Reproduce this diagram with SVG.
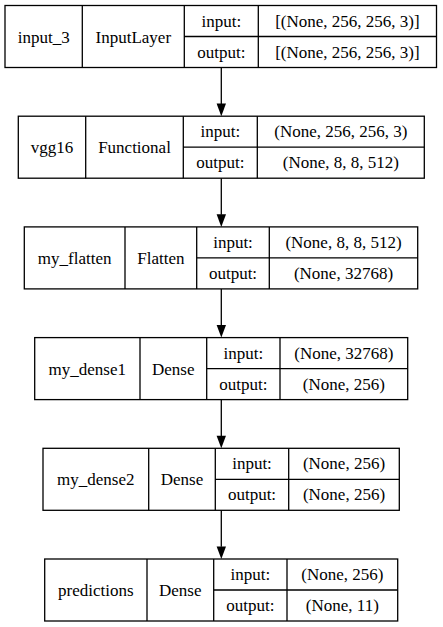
<svg xmlns="http://www.w3.org/2000/svg" width="443" height="627" viewBox="0 0 443 627">
<style>
.b{fill:none;stroke:#000;stroke-width:1.3}
.l{stroke:#000;stroke-width:1.3}
text{font-family:'Liberation Serif','DejaVu Serif',serif;font-size:17px;fill:#000;text-anchor:middle}
</style>
<rect width="443" height="627" fill="#fff"/>
<g id="connectors">
<line class="l" x1="221.3" y1="67.5" x2="221.3" y2="104"/>
<polygon points="216.6,103.6 226,103.6 221.3,116.2"/>
<line class="l" x1="221.3" y1="178.2" x2="221.3" y2="214.7"/>
<polygon points="216.6,214.3 226,214.3 221.3,226.9"/>
<line class="l" x1="221.3" y1="288.9" x2="221.3" y2="325.4"/>
<polygon points="216.6,325 226,325 221.3,337.6"/>
<line class="l" x1="221.3" y1="399.6" x2="221.3" y2="436.1"/>
<polygon points="216.6,435.7 226,435.7 221.3,448.3"/>
<line class="l" x1="221.3" y1="510.3" x2="221.3" y2="546.8"/>
<polygon points="216.6,546.4 226,546.4 221.3,559"/>
</g>
<g id="input_3">
<rect class="b" x="5" y="5.5" width="431.5" height="62"/>
<path class="l" d="M82.3,5.5V67.5M184.3,5.5V67.5M258.3,5.5V67.5M184.3,36.5H436.5"/>
<text x="43.7" y="42.5">input_3</text>
<text x="133.3" y="42.5">InputLayer</text>
<text x="221.3" y="26.5">input:</text>
<text x="221.3" y="57.5">output:</text>
<text x="347.4" y="26.5">[(None, 256, 256, 3)]</text>
<text x="347.4" y="57.5">[(None, 256, 256, 3)]</text>
</g>
<g id="vgg16">
<rect class="b" x="18.3" y="116.2" width="406" height="62"/>
<path class="l" d="M85.7,116.2V178.2M183.3,116.2V178.2M257.3,116.2V178.2M183.3,147.2H424.3"/>
<text x="52" y="153.2">vgg16</text>
<text x="134.5" y="153.2">Functional</text>
<text x="220.3" y="137.2">input:</text>
<text x="220.3" y="168.2">output:</text>
<text x="340.8" y="137.2">(None, 256, 256, 3)</text>
<text x="340.8" y="168.2">(None, 8, 8, 512)</text>
</g>
<g id="my_flatten">
<rect class="b" x="24.3" y="226.9" width="393.4" height="62"/>
<path class="l" d="M125,226.9V288.9M196.7,226.9V288.9M269.3,226.9V288.9M196.7,257.9H417.7"/>
<text x="74.7" y="263.9">my_flatten</text>
<text x="160.9" y="263.9">Flatten</text>
<text x="233" y="247.9">input:</text>
<text x="233" y="278.9">output:</text>
<text x="343.5" y="247.9">(None, 8, 8, 512)</text>
<text x="343.5" y="278.9">(None, 32768)</text>
</g>
<g id="my_dense1">
<rect class="b" x="34.7" y="337.6" width="373" height="62"/>
<path class="l" d="M140,337.6V399.6M206.7,337.6V399.6M280,337.6V399.6M206.7,368.6H407.7"/>
<text x="87.3" y="374.6">my_dense1</text>
<text x="173.3" y="374.6">Dense</text>
<text x="243.3" y="358.6">input:</text>
<text x="243.3" y="389.6">output:</text>
<text x="343.8" y="358.6">(None, 32768)</text>
<text x="343.8" y="389.6">(None, 256)</text>
</g>
<g id="my_dense2">
<rect class="b" x="43" y="448.3" width="356.3" height="62"/>
<path class="l" d="M148.7,448.3V510.3M215.3,448.3V510.3M288.7,448.3V510.3M215.3,479.3H399.3"/>
<text x="95.8" y="485.3">my_dense2</text>
<text x="182" y="485.3">Dense</text>
<text x="252" y="469.3">input:</text>
<text x="252" y="500.3">output:</text>
<text x="344" y="469.3">(None, 256)</text>
<text x="344" y="500.3">(None, 256)</text>
</g>
<g id="predictions">
<rect class="b" x="44.7" y="559" width="353" height="62"/>
<path class="l" d="M147,559V621M213.7,559V621M287,559V621M213.7,590H397.7"/>
<text x="95.8" y="596">predictions</text>
<text x="180.3" y="596">Dense</text>
<text x="250.3" y="580">input:</text>
<text x="250.3" y="611">output:</text>
<text x="342.3" y="580">(None, 256)</text>
<text x="342.3" y="611">(None, 11)</text>
</g>
</svg>
